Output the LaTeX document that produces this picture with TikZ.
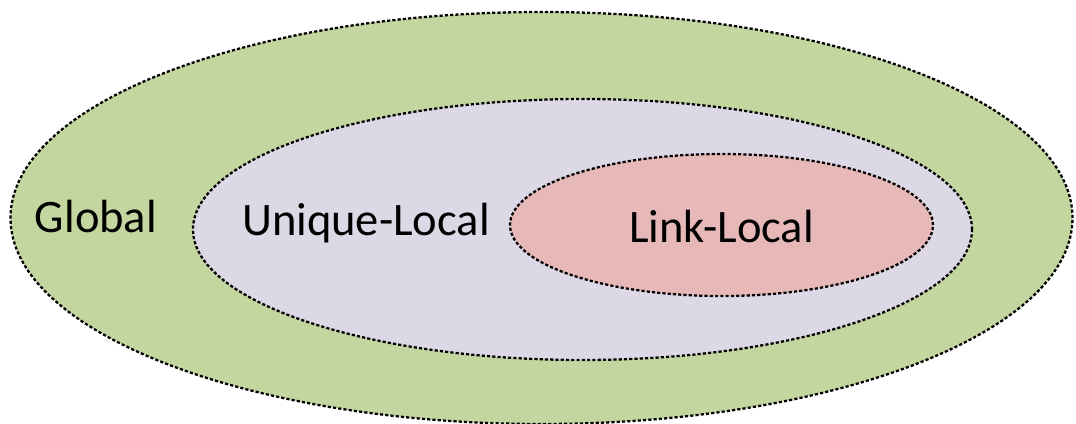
\documentclass[tikz,border=0pt]{standalone}
\usepackage{fontspec}
\setmainfont{Carlito}
\usepackage{tikz}
\usetikzlibrary{shapes.geometric,positioning}
\definecolor{ScopeGreen}{HTML}{C4D6A0}
\definecolor{ScopeLilac}{HTML}{DDD8E6}
\definecolor{ScopeRose}{HTML}{E6B9B8}

\begin{document}
\begin{tikzpicture}[x=0.02cm, y=-0.02cm,
  scope/.style={ellipse, draw=black, line width=1.3pt,
                dash pattern=on 1.8pt off 1.2pt, inner sep=0pt},
  label/.style={anchor=base, inner sep=0pt,
                font=\fontsize{26.5}{30}\selectfont}
]
\useasboundingbox (0,0) rectangle (1076,423);
\clip (0,0) rectangle (1076,423);
\node[scope, fill=ScopeGreen, minimum width=1062*0.02cm,
      minimum height=412*0.02cm] (global) at (541.5,218) {};
\node[scope, fill=ScopeLilac, minimum width=779*0.02cm,
      minimum height=261*0.02cm] (unique) at (582.5,229.5) {};
\node[scope, fill=ScopeRose, minimum width=423*0.02cm,
      minimum height=142*0.02cm] (link) at (721.5,225) {};
\node[label] (globaltext) at (96,232) {Global};
\node[label] (uniquetext) at (366,235) {Unique-Local};
\node[label] (linktext) at (721.5,242) {Link-Local};
\end{tikzpicture}
\end{document}
